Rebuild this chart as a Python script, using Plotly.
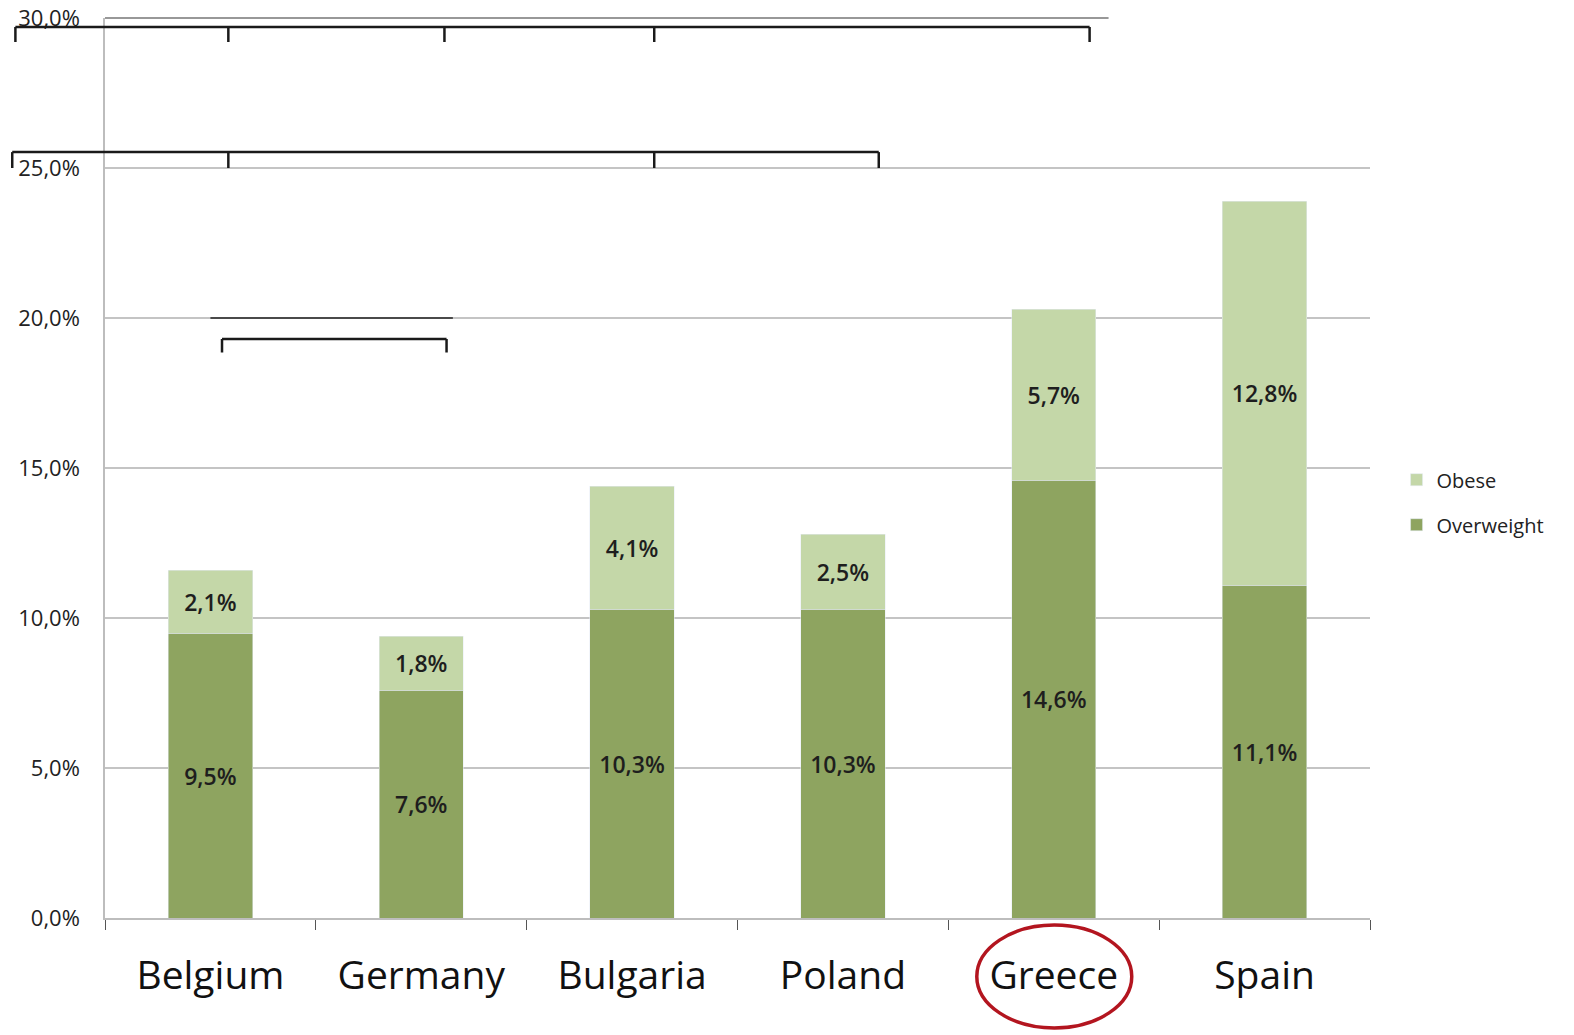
import plotly.graph_objects as go

countries = ["Belgium", "Germany", "Bulgaria", "Poland", "Greece", "Spain"]
overweight = [9.5, 7.6, 10.3, 10.3, 14.6, 11.1]
obese = [2.1, 1.8, 4.1, 2.5, 5.7, 12.8]
y_ticks = [0, 5, 10, 15, 20, 25, 30]
y_tick_text = [f"{v:.1f}%".replace(".", ",") for v in y_ticks]

C_OVER = "#8ea460"
C_OBESE = "#c4d7a8"
FONT = "Open Sans"

# the page body margin is removed below, so the figure fills the window
W, H = 1574, 1035
ML, MR, MT, MB = 105, 204, 18, 117
YMAX = 30.0
N = len(countries)
PH = H - MT - MB


def px_x(pos):
    """category position (index, may be fractional) -> paper x"""
    return (pos + 0.5) / N


def py(v):
    """data value -> paper y"""
    return v / YMAX


fig = go.Figure()
fig.add_trace(go.Bar(
    name="Overweight", x=countries, y=overweight, marker_color=C_OVER,
    texttemplate="%{y:.1f}%", textposition="inside", insidetextanchor="middle",
    textfont=dict(family=FONT, size=23, color="#1e1e1e", weight=600),
    legendgroup="b", legendrank=2,
))
fig.add_trace(go.Bar(
    name="Obese", x=countries, y=obese, marker_color=C_OBESE,
    texttemplate="%{y:.1f}%", textposition="inside", insidetextanchor="middle",
    textfont=dict(family=FONT, size=23, color="#1e1e1e", weight=600),
    legendgroup="a", legendrank=1,
))

shapes = []
LC = "#1a1a1a"


def bracket(x_positions, y_bar, y_tick, width=2.5):
    xs = [px_x(p) for p in x_positions]
    shapes.append(dict(type="line", xref="paper", yref="paper", x0=xs[0], x1=xs[-1],
                       y0=py(y_bar), y1=py(y_bar), line=dict(color=LC, width=width)))
    for x in xs:
        shapes.append(dict(type="line", xref="paper", yref="paper", x0=x, x1=x,
                           y0=py(y_bar), y1=py(y_tick), line=dict(color=LC, width=width)))


# significance brackets (positions in category units)
bracket([-0.925, 0.085, 1.11, 2.105, 4.17], 29.7, 29.2)
bracket([-0.94, 0.085, 2.105, 3.17], 25.53, 25.0)
bracket([0.055, 1.12], 19.3, 18.85)

# thin dark line at top gridline and at 20% over Belgium-Germany
shapes.append(dict(type="line", xref="paper", yref="paper", x0=0, x1=px_x(4.26),
                   y0=1, y1=1, line=dict(color="#333333", width=1.2)))
shapes.append(dict(type="line", xref="paper", yref="paper", x0=px_x(0.0), x1=px_x(1.15),
                   y0=py(20), y1=py(20), line=dict(color="#222222", width=1.5)))

# red ellipse around Greece
shapes.append(dict(type="circle", xref="paper", yref="paper",
                   x0=px_x(4 - 0.365), x1=px_x(4 + 0.37),
                   y0=-110 / PH, y1=-7 / PH,
                   line=dict(color="#b3151f", width=3.5)))

fig.update_layout(
    width=W, height=H,
    margin=dict(l=ML, r=MR, t=MT, b=MB, autoexpand=False),
    barmode="stack", bargap=0.6,
    separators=",.",
    plot_bgcolor="white", paper_bgcolor="white",
    font=dict(family=FONT, color="#222222"),
    showlegend=True,
    legend=dict(x=1.021, y=0.462, xanchor="left", yanchor="middle",
                traceorder="grouped", tracegroupgap=16,
                font=dict(family=FONT, size=20, color="#222222"),
                itemwidth=30, bgcolor="rgba(0,0,0,0)"),
    shapes=shapes,
)
fig.update_xaxes(
    showline=True, linecolor="#bdbdbd", linewidth=2,
    ticks="outside", tickson="boundaries", ticklen=10, tickcolor="#555555", tickwidth=1,
    tickfont=dict(family=FONT, size=39, color="#111111"), ticklabelstandoff=22,
    showgrid=False,
)
fig.update_yaxes(
    range=[0, YMAX], tickmode="array", tickvals=y_ticks, ticktext=y_tick_text,
    showgrid=True, gridcolor="#c4c4c4", gridwidth=1.5,
    showline=True, linecolor="#bdbdbd", linewidth=1.5,
    zeroline=False, ticks="", ticklabelstandoff=19, ticklabeloverflow="allow",
    tickfont=dict(family=FONT, size=22, color="#222222"),
)

fig.write_html(
    "out.html",
    config={"displayModeBar": False},
    post_script="document.body.style.margin='0';document.body.style.overflow='hidden';",
)
